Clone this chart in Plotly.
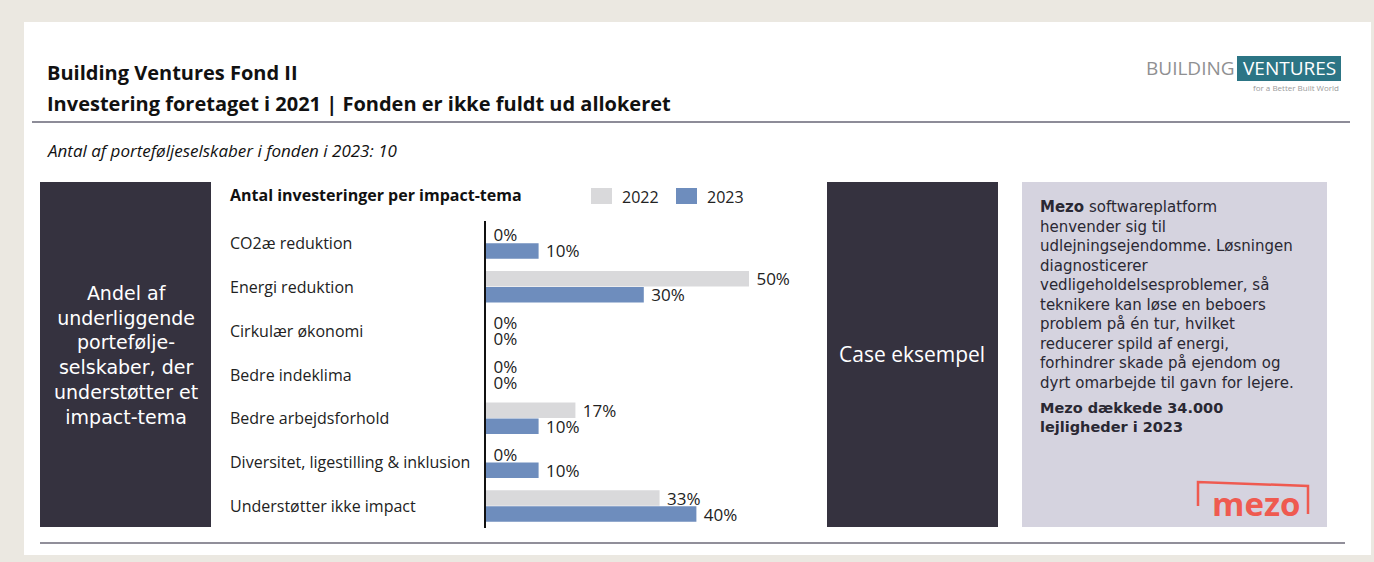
import plotly.graph_objects as go

W, H = 1374, 562

categories = [
    "CO2æ reduktion",
    "Energi reduktion",
    "Cirkulær økonomi",
    "Bedre indeklima",
    "Bedre arbejdsforhold",
    "Diversitet, ligestilling & inklusion",
    "Understøtter ikke impact",
]
values_2022 = [0, 50, 0, 0, 17, 0, 33]
values_2023 = [10, 30, 0, 0, 10, 10, 40]
series_names = ["2022", "2023"]

title_1 = "Building Ventures Fond II"
title_2 = "Investering foretaget i 2021 | Fonden er ikke fuldt ud allokeret"
subtitle = "Antal af porteføljeselskaber i fonden i 2023: 10"
chart_title = "Antal investeringer per impact-tema"
left_box_lines = ["Andel af", "underliggende", "portefølje-", "selskaber, der", "understøtter et", "impact-tema"]
case_title = "Case eksempel"
case_lines = [
    "<b>Mezo</b> softwareplatform",
    "henvender sig til",
    "udlejningsejendomme. Løsningen",
    "diagnosticerer",
    "vedligeholdelsesproblemer, så",
    "teknikere kan løse en beboers",
    "problem på én tur, hvilket",
    "reducerer spild af energi,",
    "forhindrer skade på ejendom og",
    "dyrt omarbejde til gavn for lejere.",
]
case_bold_lines = ["Mezo dækkede 34.000", "lejligheder i 2023"]

FONT = "Open Sans"
WIDE = "DejaVu Sans"
C2022 = "#d9d9db"
C2023 = "#6e8dbd"
DARK = "#35323f"
TXT = "#222222"


def px(x):
    return x / W


def py(y):
    return 1 - y / H


fig = go.Figure()
for vals, name, col in [(values_2022, series_names[0], C2022), (values_2023, series_names[1], C2023)]:
    fig.add_trace(go.Bar(
        y=categories, x=vals, name=name, orientation="h",
        marker=dict(color=col, line=dict(width=0)),
        texttemplate="\u00a0%{x}%", textposition="outside", constraintext="none",
        textfont=dict(family=FONT, size=17, color=TXT), cliponaxis=False,
        showlegend=False,
    ))

shapes = []
ann = []

# backgrounds
shapes.append(dict(type="rect", xref="paper", yref="paper", x0=0, x1=1, y0=0, y1=1,
                   fillcolor="#ebe8e1", line=dict(width=0), layer="below"))
shapes.append(dict(type="rect", xref="paper", yref="paper", x0=px(24), x1=px(1371), y0=py(555), y1=py(22),
                   fillcolor="white", line=dict(width=0), layer="below"))
# header line & bottom line
shapes.append(dict(type="line", xref="paper", yref="paper", x0=px(32), x1=px(1350), y0=py(122), y1=py(122),
                   line=dict(color="#8d8c98", width=2)))
shapes.append(dict(type="line", xref="paper", yref="paper", x0=px(40), x1=px(1345), y0=py(543), y1=py(543),
                   line=dict(color="#6c6a78", width=1.5)))
# dark boxes
shapes.append(dict(type="rect", xref="paper", yref="paper", x0=px(40), x1=px(211), y0=py(527), y1=py(182),
                   fillcolor=DARK, line=dict(width=0), layer="below"))
shapes.append(dict(type="rect", xref="paper", yref="paper", x0=px(827), x1=px(998), y0=py(527), y1=py(182),
                   fillcolor=DARK, line=dict(width=0), layer="below"))
# case box
shapes.append(dict(type="rect", xref="paper", yref="paper", x0=px(1022), x1=px(1327), y0=py(527), y1=py(182),
                   fillcolor="#d5d3df", line=dict(width=0), layer="below"))
# legend squares
shapes.append(dict(type="rect", xref="paper", yref="paper", x0=px(591), x1=px(612), y0=py(204), y1=py(188),
                   fillcolor=C2022, line=dict(width=0)))
shapes.append(dict(type="rect", xref="paper", yref="paper", x0=px(676), x1=px(697), y0=py(204), y1=py(188),
                   fillcolor=C2023, line=dict(width=0)))
# logo box
shapes.append(dict(type="rect", xref="paper", yref="paper", x0=px(1237), x1=px(1341), y0=py(81), y1=py(56),
                   fillcolor="#2c7585", line=dict(width=0)))
# mezo bracket
RED = "#ef5a50"
shapes.append(dict(type="path", xref="paper", yref="paper",
                   path=f"M {px(1198)},{py(506)} L {px(1198)},{py(482)} L {px(1308)},{py(486)} L {px(1308)},{py(514)}",
                   line=dict(color=RED, width=2.5)))

# texts
ann.append(dict(text=f"<b>{title_1}</b>", x=px(45), y=py(72), xref="paper", yref="paper",
                xanchor="left", yanchor="middle", showarrow=False, font=dict(family=FONT, size=20, color="#111")))
ann.append(dict(text=f"<b>{title_2}</b>", x=px(45), y=py(103), xref="paper", yref="paper",
                xanchor="left", yanchor="middle", showarrow=False, font=dict(family=FONT, size=20, color="#111")))
ann.append(dict(text=f"<i>{subtitle}</i>", x=px(45), y=py(151), xref="paper", yref="paper",
                xanchor="left", yanchor="middle", showarrow=False, font=dict(family=FONT, size=17, color="#111")))
ann.append(dict(text=f"<b>{chart_title}</b>", x=px(228), y=py(195), xref="paper", yref="paper",
                xanchor="left", yanchor="middle", showarrow=False, font=dict(family=FONT, size=16, color="#111")))
ann.append(dict(text=series_names[0], x=px(620), y=py(197), xref="paper", yref="paper",
                xanchor="left", yanchor="middle", showarrow=False, font=dict(family=FONT, size=16, color=TXT)))
ann.append(dict(text=series_names[1], x=px(705), y=py(197), xref="paper", yref="paper",
                xanchor="left", yanchor="middle", showarrow=False, font=dict(family=FONT, size=16, color=TXT)))
for c in categories:
    ann.append(dict(text=c, x=px(228), y=c, xref="paper", yref="y",
                    xanchor="left", yanchor="middle", showarrow=False, font=dict(family=FONT, size=16, color=TXT)))
ann.append(dict(text="<br>".join(left_box_lines), x=px(125.5), y=py(354.5), xref="paper", yref="paper",
                xanchor="center", yanchor="middle", align="center", showarrow=False,
                font=dict(family=WIDE, size=19, color="white")))
ann.append(dict(text=case_title, x=px(912.5), y=py(354), xref="paper", yref="paper",
                xanchor="center", yanchor="middle", showarrow=False,
                font=dict(family=FONT, size=21, color="white")))
ann.append(dict(text="<br>".join(case_lines), x=px(1038), y=py(295), xref="paper", yref="paper",
                xanchor="left", yanchor="middle", align="left", showarrow=False,
                font=dict(family=WIDE, size=15, color="#2a2833")))
ann.append(dict(text="<b>" + "<br>".join(case_bold_lines) + "</b>", x=px(1038), y=py(417.5),
                xref="paper", yref="paper", xanchor="left", yanchor="middle", align="left", showarrow=False,
                font=dict(family=WIDE, size=14.5, color="#2a2833")))
ann.append(dict(text="<b>mezo</b>", x=px(1256), y=py(503), xref="paper", yref="paper",
                xanchor="center", yanchor="middle", showarrow=False,
                font=dict(family=FONT, size=33, color=RED)))
# logo
ann.append(dict(text="BUILDING", x=px(1237), y=py(68), xref="paper", yref="paper",
                xanchor="right", yanchor="middle", showarrow=False,
                font=dict(family=FONT, size=19, color="#8f9092")))
ann.append(dict(text="VENTURES", x=px(1289), y=py(68), xref="paper", yref="paper",
                xanchor="center", yanchor="middle", showarrow=False,
                font=dict(family=FONT, size=19, color="white")))
ann.append(dict(text="for a Better Built World", x=px(1341), y=py(87), xref="paper", yref="paper",
                xanchor="right", yanchor="middle", showarrow=False,
                font=dict(family=FONT, size=8, color="#9a9a9a")))

fig.update_layout(
    width=W, height=H,
    margin=dict(l=0, r=0, t=0, b=0),
    paper_bgcolor="white", plot_bgcolor="rgba(0,0,0,0)",
    barmode="group", bargap=0.27, bargroupgap=0.03,
    shapes=shapes, annotations=ann,
    font=dict(family=FONT, color=TXT),
    xaxis=dict(domain=[px(486), px(486 + 5.26 * 60)], range=[0, 60], showgrid=False,
               zeroline=False, showticklabels=False, showline=False, fixedrange=True),
    yaxis=dict(domain=[py(528), py(221)], categoryorder="array", categoryarray=categories,
               autorange="reversed", showticklabels=False, showgrid=False, zeroline=False,
               showline=True, linecolor="#111", linewidth=1.5, ticks="", fixedrange=True),
)

fig.write_html("out.html", config={"displayModeBar": False},
               post_script="document.body.style.margin='0';document.body.style.overflow='hidden';")
